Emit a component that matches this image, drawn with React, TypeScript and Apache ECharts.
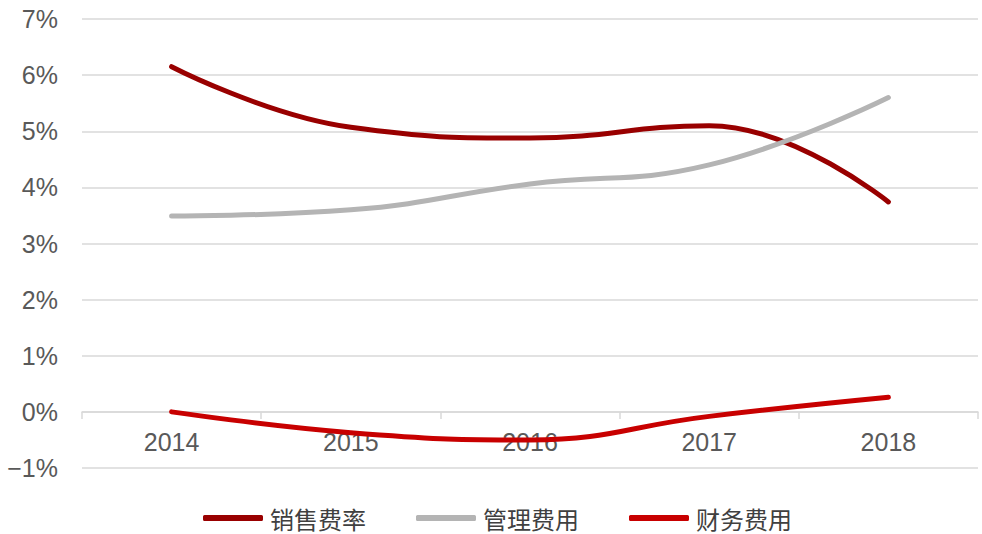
import React, { useEffect, useRef } from "react";
import * as echarts from "echarts";

const categories = ["2014", "2015", "2016", "2017", "2018"];
const salesRate = [6.15, 5.07, 4.88, 5.1, 3.74];
const mgmtCost = [3.49, 3.6, 4.06, 4.4, 5.6];
const finCost = [0, -0.37, -0.5, -0.08, 0.26];
const seriesNames = ["销售费率", "管理费用", "财务费用"];

const Y_MIN = -1;
const Y_MAX = 7;
const GRID_TOP = 19;
const GRID_BOTTOM = 66;
const H = 534;

export default function App() {
  const ref = useRef<HTMLDivElement>(null);
  useEffect(() => {
    if (!ref.current) return;
    const chart = echarts.init(ref.current, undefined, { renderer: "svg" });
    const plotH = H - GRID_TOP - GRID_BOTTOM;
    const zeroOffset = -(plotH * (0 - Y_MIN)) / (Y_MAX - Y_MIN);
    const mk = (name: string, data: number[], color: string) => ({
      name,
      type: "line",
      data,
      smooth: 0.45,
      symbol: "none",
      showSymbol: false,
      lineStyle: { color, width: 5, cap: "round" },
      itemStyle: { color },
    });
    chart.setOption({
      animation: false,
      backgroundColor: "#ffffff",
      grid: { left: 82, right: 4, top: GRID_TOP, bottom: GRID_BOTTOM, containLabel: false },
      legend: {
        left: 203,
        top: 506,
        padding: 0,
        icon: "roundRect",
        itemWidth: 60,
        itemHeight: 6,
        itemGap: 50,
        textStyle: {
          fontFamily: "'Noto Sans CJK SC', sans-serif",
          fontSize: 24,
          color: "#404040",
          padding: [0, 0, 0, 2],
        },
        data: seriesNames,
      },
      xAxis: {
        type: "category",
        data: categories,
        boundaryGap: true,
        offset: zeroOffset,
        axisLine: { onZero: false, lineStyle: { color: "#d9d9d9", width: 1.5 } },
        axisTick: { show: true, length: 7, lineStyle: { color: "#d9d9d9", width: 1.5 } },
        axisLabel: {
          margin: 18,
          color: "#595959",
          fontSize: 25,
          fontFamily: "'Liberation Sans', Arial, sans-serif",
        },
      },
      yAxis: {
        type: "value",
        min: Y_MIN,
        max: Y_MAX,
        interval: 1,
        axisLine: { show: false },
        axisTick: { show: false },
        splitLine: { lineStyle: { color: "#d9d9d9", width: 1.5 } },
        axisLabel: {
          margin: 24,
          color: "#595959",
          fontSize: 25,
          fontFamily: "'Liberation Sans', Arial, sans-serif",
          formatter: (v: number) => (v < 0 ? "\u2212" + Math.abs(v) + "%" : v + "%"),
        },
      },
      series: [
        mk(seriesNames[0], salesRate, "#990000"),
        mk(seriesNames[1], mgmtCost, "#b4b4b4"),
        mk(seriesNames[2], finCost, "#c80000"),
      ],
    });
    return () => chart.dispose();
  }, []);
  return (
    <div
      ref={ref}
      style={{ position: "fixed", left: 0, top: 0, width: 982, height: 534 }}
    />
  );
}
